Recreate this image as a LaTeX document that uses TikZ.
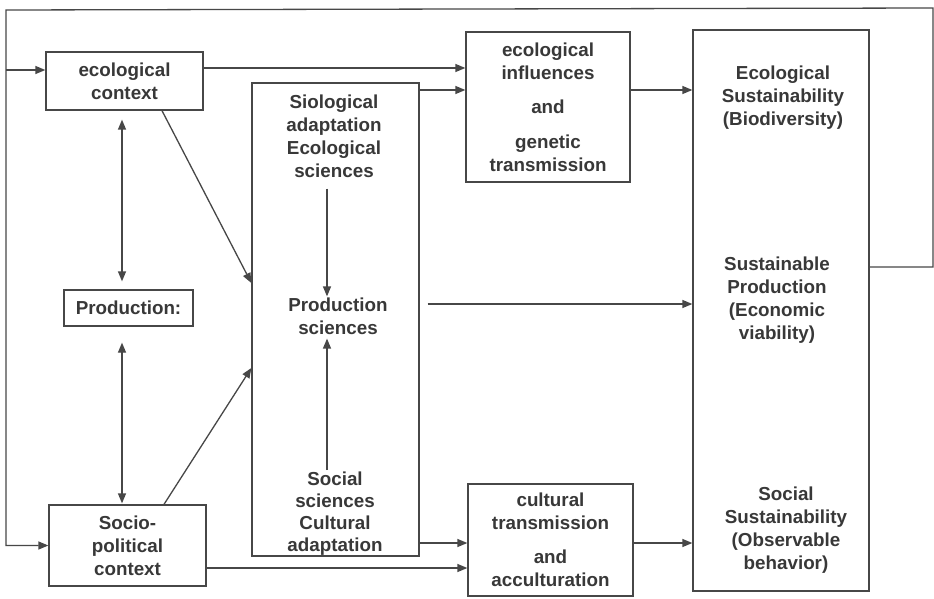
\documentclass[tikz,border=0pt]{standalone}
\usepackage{fontspec}
\setmainfont{Liberation Sans}
\usetikzlibrary{arrows.meta,calc}
\begin{document}
\begin{tikzpicture}[x=1pt,y=-1pt,
  every node/.style={font=\fontsize{18.8}{23}\selectfont\bfseries, text=black!78, align=center, inner sep=0pt},
  box/.style={draw=black!72, line width=1.3pt},
  conn/.style={draw=black!72, line width=1.3pt},
  tip/.style={-{Triangle[length=10pt,width=8pt]}},
  arr/.style={conn, tip},
  darr/.style={conn, {Triangle[length=10pt,width=8pt]}-{Triangle[length=10pt,width=8pt]}}]
\fill[white] (0,0) rectangle (934,599);
\useasboundingbox (0,0) rectangle (934,599);

% boxes on the left
\node[box, minimum width=157pt, minimum height=58pt] (eco) at (124.5,81) {ecological\\context};
\node[box, minimum width=129pt, minimum height=36pt] (prod) at (128.5,308) {Production:};
\node[box, minimum width=157pt, minimum height=81pt] (socio) at (127.5,545.5) {Socio-\\political\\context};

% sciences column
\node[box, minimum width=167pt, minimum height=473pt] (mid) at (335.5,319.5) {};
\node (biosci) at (334,136) {Siological\\adaptation\\Ecological\\sciences};
\node (prodsci) at (338,316) {Production\\sciences};
\node[font=\fontsize{18.8}{22}\selectfont\bfseries] (socsci) at (335,514) {Social\\sciences\\Cultural\\adaptation};

% transmission boxes
\node[box, minimum width=164pt, minimum height=150pt] (ecoinf) at (548,107)
  {ecological\\influences\\[11pt]and\\[12pt]genetic\\transmission};
\node[box, minimum width=165pt, minimum height=112pt] (cult) at (550.5,540)
  {cultural\\transmission\\[11pt]and\\acculturation};

% sustainability column
\node[box, minimum width=176pt, minimum height=561pt] (big) at (781,310.5) {};
\node (ecosus) at (783,98) {Ecological\\Sustainability\\(Biodiversity)};
\node (susprod) at (777,300) {Sustainable\\Production\\(Economic\\viability)};
\node (socsus) at (786,530) {Social\\Sustainability\\(Observable\\behavior)};

% helper coordinates for rows and columns
\coordinate (axL) at (122,0);
\coordinate (axM) at (327,0);
\coordinate (rowA) at (0,68);
\coordinate (rowB) at (0,90);
\coordinate (rowC) at (0,304);
\coordinate (rowD) at (0,543);
\coordinate (rowE) at (0,568);
\coordinate (rowF) at (0,267);
\coordinate (fbR) at (933,8);
\coordinate (fbL) at (6,10);
\coordinate (rowG) at (0,70);

% feedback loop
\draw[conn] (big.east |- rowF) -- (fbR |- rowF) -- (fbR) -- (fbL) |- (socio.west) [tip];
\draw[arr] (fbL |- rowG) -- (eco.west |- rowG);

% left column links
\draw[darr, shorten <=9pt, shorten >=8pt] (eco.south -| axL) -- (prod.north -| axL);
\draw[darr, shorten <=16pt, shorten >=1pt] (prod.south -| axL) -- (socio.north -| axL);
\draw[arr] ([xshift=37.5pt]eco.south) -- ([yshift=36.5pt]mid.west);
\draw[arr] ([xshift=36.5pt]socio.north) -- ([yshift=-48.5pt]mid.west);

% inside the sciences column
\draw[arr, shorten <=11pt, shorten >=1pt] (biosci.south -| axM) -- (prodsci.north -| axM);
\draw[arr, shorten <=2pt, shorten >=4pt] (socsci.north -| axM) -- (prodsci.south -| axM);

% rows to the right
\draw[arr] (eco.east |- rowA) -- (ecoinf.west |- rowA);
\draw[arr] (mid.east |- rowB) -- (ecoinf.west |- rowB);
\draw[arr] (ecoinf.east |- rowB) -- (big.west |- rowB);
\draw[arr, shorten <=8pt] (mid.east |- rowC) -- (big.west |- rowC);
\draw[arr] (mid.east |- rowD) -- (cult.west |- rowD);
\draw[arr] (socio.east |- rowE) -- (cult.west |- rowE);
\draw[arr] (cult.east |- rowD) -- (big.west |- rowD);
\end{tikzpicture}
\end{document}
